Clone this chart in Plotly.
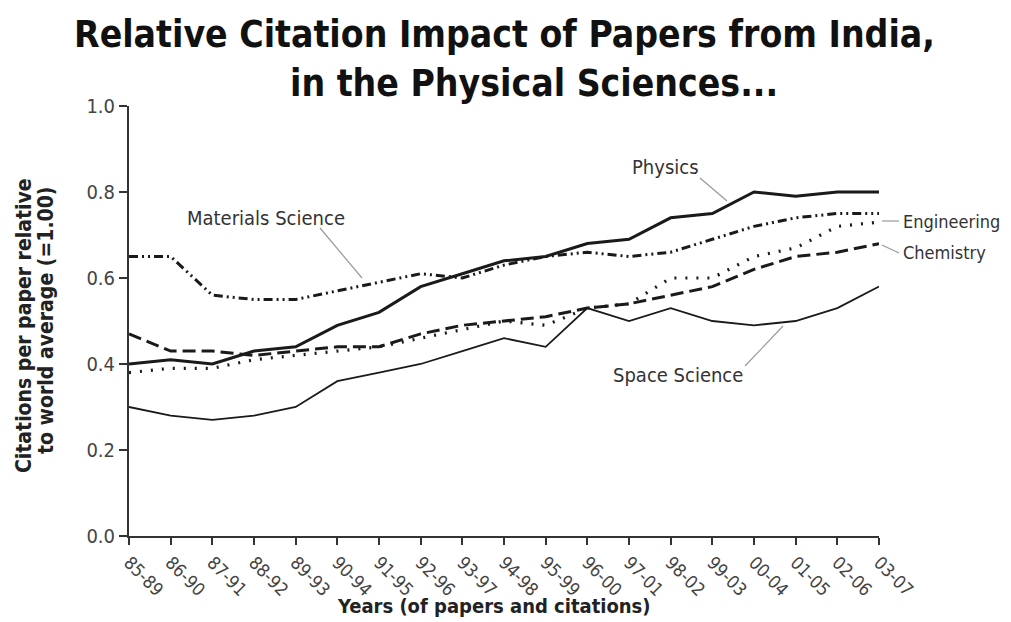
import plotly.graph_objects as go

periods = ["85-89", "86-90", "87-91", "88-92", "89-93", "90-94", "91-95", "92-96", "93-97", "94-98",
           "95-99", "96-00", "97-01", "98-02", "99-03", "00-04", "01-05", "02-06", "03-07"]
physics = [0.40, 0.41, 0.40, 0.43, 0.44, 0.49, 0.52, 0.58, 0.61, 0.64, 0.65, 0.68, 0.69, 0.74, 0.75, 0.80, 0.79, 0.80, 0.80]
materials = [0.65, 0.65, 0.56, 0.55, 0.55, 0.57, 0.59, 0.61, 0.60, 0.63, 0.65, 0.66, 0.65, 0.66, 0.69, 0.72, 0.74, 0.75, 0.75]
engineering = [0.38, 0.39, 0.39, 0.41, 0.42, 0.43, 0.44, 0.46, 0.48, 0.50, 0.49, 0.53, 0.54, 0.60, 0.60, 0.65, 0.67, 0.72, 0.73]
chemistry = [0.47, 0.43, 0.43, 0.42, 0.43, 0.44, 0.44, 0.47, 0.49, 0.50, 0.51, 0.53, 0.54, 0.56, 0.58, 0.62, 0.65, 0.66, 0.68]
space = [0.30, 0.28, 0.27, 0.28, 0.30, 0.36, 0.38, 0.40, 0.43, 0.46, 0.44, 0.53, 0.50, 0.53, 0.50, 0.49, 0.50, 0.53, 0.58]

NARROW = "DejaVu Sans Condensed, Liberation Sans Narrow, Arial Narrow, sans-serif"
INK = "#1a1a1a"

series = [
    ("Space Science", space, dict(color=INK, width=1.8, dash="solid")),
    ("Chemistry", chemistry, dict(color=INK, width=3, dash="13px,6px")),
    ("Engineering", engineering, dict(color=INK, width=3.2, dash="2px,9px")),
    ("Materials Science", materials, dict(color=INK, width=3, dash="9px,4px,2px,4px,2px,4px")),
    ("Physics", physics, dict(color=INK, width=3, dash="solid")),
]

fig = go.Figure()
for name, vals, line in series:
    fig.add_trace(go.Scatter(x=periods, y=vals, mode="lines", name=name, line=line, showlegend=False))

# screen-pixel helpers for annotations (plot area on screen: x 129..879, y 106..536)
def px(x):
    return (x - 129) / 750.0

def py(y):
    return (536 - y) / 430.0

annotations = [
    dict(text="<b>Relative Citation Impact of Papers from India,</b>", x=px(504), y=py(34),
         font=dict(family=NARROW, size=37, color="#111")),
    dict(text="<b>in the Physical Sciences...</b>", x=px(534), y=py(83),
         font=dict(family=NARROW, size=37, color="#111")),
    dict(text="<b>Citations per paper relative</b>", x=px(24), y=py(326),
         textangle=-90, font=dict(family=NARROW, size=21, color="#222")),
    dict(text="<b>to world average (=1.00)</b>", x=px(46), y=py(321),
         textangle=-90, font=dict(family=NARROW, size=21, color="#222")),
    dict(text="<b>Years (of papers and citations)</b>", x=px(494), y=py(606),
         font=dict(family=NARROW, size=20, color="#222")),
    dict(text="Physics", x=px(665), y=py(167), font=dict(family=NARROW, size=20, color="#333")),
    dict(text="Materials Science", x=px(266), y=py(218), font=dict(family=NARROW, size=20, color="#333")),
    dict(text="Engineering", x=px(901), y=py(221), xanchor="left", font=dict(family=NARROW, size=18, color="#333")),
    dict(text="Chemistry", x=px(901), y=py(252), xanchor="left", font=dict(family=NARROW, size=18, color="#333")),
    dict(text="Space Science", x=px(678), y=py(375), font=dict(family=NARROW, size=20, color="#333")),
]
for a in annotations:
    a.update(xref="paper", yref="paper", showarrow=False)
    a.setdefault("xanchor", "center")
    a.setdefault("yanchor", "middle")

leaders = [
    ((700, 178), (727, 201)),
    ((320, 228), (362, 278)),
    ((882, 221), (899, 221)),
    ((882, 245), (899, 253)),
    ((745, 366), (783, 326)),
]
shapes = [dict(type="line", xref="paper", yref="paper", x0=px(a[0]), y0=py(a[1]), x1=px(b[0]), y1=py(b[1]),
               line=dict(color="#999", width=1.2)) for a, b in leaders]

fig.update_layout(
    width=1003, height=614,
    margin=dict(l=121, r=132, t=98, b=86),
    paper_bgcolor="white", plot_bgcolor="white",
    annotations=annotations, shapes=shapes,
    xaxis=dict(type="category", range=[0, 18], showgrid=False, zeroline=False,
               showline=True, linecolor="#333", linewidth=2,
               ticks="outside", ticklen=7, tickwidth=2, tickcolor="#333",
               tickangle=45, tickfont=dict(family=NARROW, size=18, color="#444")),
    yaxis=dict(range=[0, 1.0], dtick=0.2, tickformat=".1f", showgrid=False, zeroline=False,
               showline=True, linecolor="#333", linewidth=2,
               ticks="outside", ticklen=8, tickwidth=2, tickcolor="#333",
               tickfont=dict(family=NARROW, size=20, color="#444")),
)

fig.write_html("out.html")
